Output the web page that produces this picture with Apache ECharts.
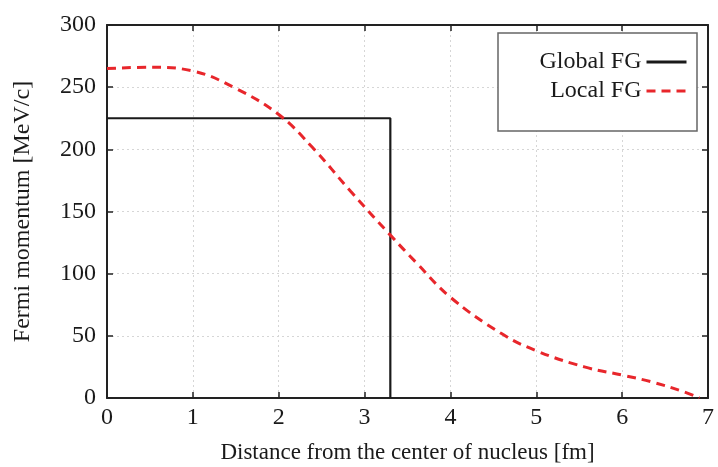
<!DOCTYPE html>
<html>
<head>
<meta charset="utf-8">
<script src="https://cdn.jsdelivr.net/npm/echarts@6/dist/echarts.min.js"></script>
<style>
html,body{margin:0;padding:0;background:#fff;}
#chart{width:718px;height:467px;}
</style>
</head>
<body>
<div id="chart"></div>
<script>
const xTicks = [0, 1, 2, 3, 4, 5, 6, 7];
const yTicks = [0, 50, 100, 150, 200, 250, 300];
const seriesNames = ['Global FG', 'Local FG'];
const globalX = [0, 3.3, 3.3];
const globalY = [225, 225, 0];
const localX = [0, 0.5, 1.0, 1.5, 2.0, 2.4, 2.84, 3.3, 3.6, 4.0, 4.59, 5.0, 5.56, 6.03, 6.34, 6.72, 6.9];
const localY = [265, 266, 263, 249, 228, 201, 166, 131, 109, 81, 52, 38, 25, 18, 13, 5, 0];

const FONT = '"Liberation Serif", "DejaVu Serif", serif';
const chart = echarts.init(document.getElementById('chart'));
const pair = (xs, ys) => xs.map((x, i) => [x, ys[i]]);

const baseX = {
  type: 'value', min: xTicks[0], max: xTicks[xTicks.length - 1], interval: 1,
  axisLine: {show: true, onZero: false, lineStyle: {color: '#222', width: 2}},
  axisTick: {show: true, inside: true, length: 6, lineStyle: {color: '#222', width: 1.5}},
  splitLine: {show: false}
};
const baseY = {
  type: 'value', min: yTicks[0], max: yTicks[yTicks.length - 1], interval: 50,
  axisLine: {show: true, onZero: false, lineStyle: {color: '#222', width: 2}},
  axisTick: {show: true, inside: true, length: 6, lineStyle: {color: '#222', width: 1.5}},
  splitLine: {show: false}
};

chart.setOption({
  animation: false,
  backgroundColor: '#fff',
  grid: {left: 107, right: 10, top: 25, bottom: 69, outerBoundsMode: 'none', containLabel: false},
  xAxis: [
    Object.assign({}, baseX, {
      position: 'bottom',
      name: 'Distance from the center of nucleus [fm]',
      nameLocation: 'middle', nameGap: 43,
      nameTextStyle: {fontFamily: FONT, fontSize: 23, color: '#1a1a1a'},
      axisLabel: {fontFamily: FONT, fontSize: 24, color: '#1a1a1a', margin: 8},
      splitLine: {show: true, lineStyle: {color: '#d6d6d6', type: [2, 3], width: 1}}
    }),
    Object.assign({}, baseX, {position: 'top', axisLabel: {show: false}})
  ],
  yAxis: [
    Object.assign({}, baseY, {
      position: 'left',
      name: 'Fermi momentum [MeV/c]',
      nameLocation: 'middle', nameGap: 72,
      nameTextStyle: {fontFamily: FONT, fontSize: 24, color: '#1a1a1a'},
      axisLabel: {fontFamily: FONT, fontSize: 24, color: '#1a1a1a', margin: 11},
      splitLine: {show: true, lineStyle: {color: '#d6d6d6', type: [2, 3], width: 1}}
    }),
    Object.assign({}, baseY, {position: 'right', axisLabel: {show: false}})
  ],
  graphic: [{
    type: 'rect', shape: {x: 498, y: 33, width: 199, height: 98},
    style: {fill: '#fff', stroke: '#666', lineWidth: 1.5}, z: 10
  }],
  legend: {
    orient: 'vertical', align: 'right', right: 30, top: 50,
    itemWidth: 40, itemHeight: 14, itemGap: 5, padding: 0, z: 20,
    itemStyle: {opacity: 0},
    lineStyle: {width: 3},
    textStyle: {fontFamily: FONT, fontSize: 24, color: '#1a1a1a'},
    data: seriesNames
  },
  series: [
    {
      name: seriesNames[0], type: 'line', data: pair(globalX, globalY),
      symbol: 'none', z: 3,
      lineStyle: {color: '#1a1a1a', width: 2.2}, itemStyle: {color: '#1a1a1a'}
    },
    {
      name: seriesNames[1], type: 'line', data: pair(localX, localY),
      symbol: 'none', smooth: 0.4, z: 4,
      lineStyle: {color: '#e8262b', width: 3, type: [9, 6]}, itemStyle: {color: '#e8262b'}
    }
  ]
});
</script>
</body>
</html>
